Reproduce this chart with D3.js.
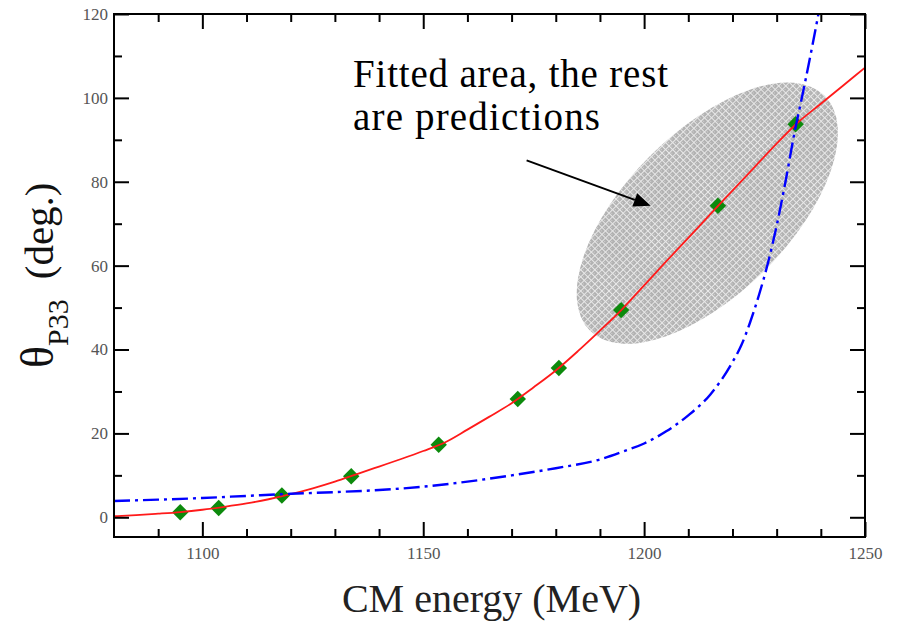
<!DOCTYPE html>
<html>
<head>
<meta charset="utf-8">
<script src="https://cdn.jsdelivr.net/npm/d3@7"></script>
<style>
  html, body { margin: 0; padding: 0; background: #fff; }
  svg { display: block; }
</style>
</head>
<body>
<svg id="chart" width="897" height="626"></svg>
<script>
// ---- data ----
const pointEnergy = [1095.0, 1103.7, 1118.0, 1133.7, 1153.5, 1171.4, 1180.7, 1194.8, 1216.7, 1234.3];
const pointPhase  = [1.2, 2.2, 5.2, 9.8, 17.3, 28.2, 35.6, 49.4, 74.3, 93.7];

const fitEnergy = [1080,1085,1090,1095,1100,1105,1110,1115,1120,1125,1130,1135,1140,1145,1150,1155,1160,1165,1170,1175,1180,1185,1190,1195,1200,1205,1210,1215,1220,1225,1230,1235,1240,1245,1250];
const fitPhase  = [0.25,0.5,0.85,1.25,1.8,2.5,3.3,4.3,5.5,6.9,8.5,10.3,12.1,13.9,15.8,17.9,20.9,24.0,27.2,31.0,35.0,39.6,44.5,49.6,55.3,61.0,66.6,72.3,77.9,83.5,89.1,94.3,98.6,102.9,107.2];

const predEnergy = [1080,1090,1100,1110,1120,1130,1140,1150,1160,1170,1180,1190,1195,1200,1205,1210,1215,1220,1222,1224,1226,1228,1230,1232,1234,1236,1238,1240];
const predPhase  = [3.9,4.2,4.6,5.1,5.6,6.0,6.5,7.3,8.5,10.0,11.7,13.8,15.6,17.6,20.5,24.3,29.3,37.0,41.0,46.5,53.0,60.5,69.5,80.0,91.5,101.5,112.0,123.0];

const xMajorTicks = [1100, 1150, 1200, 1250];
const xMinorTicks = [1090,1110,1120,1130,1140,1160,1170,1180,1190,1210,1220,1230,1240];
const yMajorTicks = [0, 20, 40, 60, 80, 100, 120];
const yMinorTicks = [10, 30, 50, 70, 90, 110];

const xLabel = "CM energy (MeV)";
const annotationLines = ["Fitted area, the rest", "are predictions"];

// ---- layout ----
const L = 114, R = 865, T = 14, B = 537;
const svg = d3.select("#chart");
const x = d3.scaleLinear().domain([1080, 1250]).range([L, R]);
const y = d3.scaleLinear().domain([-4.7, 120]).range([B, T]);

const defs = svg.append("defs");
defs.append("clipPath").attr("id", "plotClip")
  .append("rect").attr("x", L).attr("y", T).attr("width", R - L).attr("height", B - T);

const pat = defs.append("pattern").attr("id", "stipple")
  .attr("patternUnits", "userSpaceOnUse").attr("width", 5).attr("height", 5);
pat.append("rect").attr("width", 5).attr("height", 5).attr("fill", "#b2b2b2");
pat.append("rect").attr("x", 0).attr("y", 0).attr("width", 5).attr("height", 1).attr("fill", "#e8e8e8");
pat.append("rect").attr("x", 0).attr("y", 0).attr("width", 1).attr("height", 5).attr("fill", "#e8e8e8");
pat.append("rect").attr("x", 2).attr("y", 2).attr("width", 1).attr("height", 1).attr("fill", "#d4d4d4");

const plot = svg.append("g").attr("clip-path", "url(#plotClip)");

// ellipse (fitted area)
const ellCx = x(1214.3), ellCy = y(72.5);
plot.append("ellipse")
  .attr("cx", 0).attr("cy", 0).attr("rx", 166).attr("ry", 81)
  .attr("transform", `translate(${ellCx},${ellCy}) rotate(-45)`)
  .attr("fill", "url(#stipple)");

// data points
const pts = pointEnergy.map((e, i) => ({e, p: pointPhase[i]}));
plot.selectAll("path.pt").data(pts).enter().append("path")
  .attr("class", "pt")
  .attr("d", d3.symbol().type(d3.symbolSquare).size(135))
  .attr("transform", d => `translate(${x(d.e)},${y(d.p)}) rotate(45)`)
  .attr("fill", "#0c8a0c");

// fit curve (red)
const line = d3.line().x(d => x(d[0])).y(d => y(d[1])).curve(d3.curveMonotoneX);
plot.append("path")
  .datum(fitEnergy.map((e, i) => [e, fitPhase[i]]))
  .attr("d", line)
  .attr("fill", "none").attr("stroke", "#ff1a1a").attr("stroke-width", 1.8);

// prediction curve (blue dash-dot)
plot.append("path")
  .datum(predEnergy.map((e, i) => [e, predPhase[i]]))
  .attr("d", line)
  .attr("fill", "none").attr("stroke", "#0000ff").attr("stroke-width", 2.4)
  .attr("stroke-dasharray", "16,5,3,5");

// ---- axes ----
const tickFont = "'Liberation Serif', 'Times New Roman', serif";
function styleAxis(g) {
  g.select(".domain").remove();
  g.selectAll(".tick line").attr("stroke", "#000").attr("stroke-width", 2);
  g.selectAll(".tick text").attr("fill", "#555").style("font-family", tickFont).style("font-size", "17px");
}
svg.append("g").attr("transform", `translate(0,${B})`)
  .call(d3.axisBottom(x).tickValues(xMajorTicks).tickSizeInner(-15).tickSizeOuter(0).tickPadding(10).tickFormat(d3.format("d")))
  .call(styleAxis);
svg.append("g").attr("transform", `translate(0,${B})`)
  .call(d3.axisBottom(x).tickValues(xMinorTicks).tickSizeInner(-8).tickSizeOuter(0).tickFormat(""))
  .call(styleAxis);
svg.append("g").attr("transform", `translate(0,${T})`)
  .call(d3.axisTop(x).tickValues(xMajorTicks).tickSizeInner(-15).tickSizeOuter(0).tickFormat(""))
  .call(styleAxis);
svg.append("g").attr("transform", `translate(0,${T})`)
  .call(d3.axisTop(x).tickValues(xMinorTicks).tickSizeInner(-8).tickSizeOuter(0).tickFormat(""))
  .call(styleAxis);
svg.append("g").attr("transform", `translate(${L},0)`)
  .call(d3.axisLeft(y).tickValues(yMajorTicks).tickSizeInner(-15).tickSizeOuter(0).tickPadding(6).tickFormat(d3.format("d")))
  .call(styleAxis);
svg.append("g").attr("transform", `translate(${L},0)`)
  .call(d3.axisLeft(y).tickValues(yMinorTicks).tickSizeInner(-8).tickSizeOuter(0).tickFormat(""))
  .call(styleAxis);
svg.append("g").attr("transform", `translate(${R},0)`)
  .call(d3.axisRight(y).tickValues(yMajorTicks).tickSizeInner(-15).tickSizeOuter(0).tickFormat(""))
  .call(styleAxis);
svg.append("g").attr("transform", `translate(${R},0)`)
  .call(d3.axisRight(y).tickValues(yMinorTicks).tickSizeInner(-8).tickSizeOuter(0).tickFormat(""))
  .call(styleAxis);

// frame
svg.append("rect").attr("x", L).attr("y", T).attr("width", R - L).attr("height", B - T)
  .attr("fill", "none").attr("stroke", "#000").attr("stroke-width", 2);

// ---- titles ----
const serif = "'Liberation Serif', 'Times New Roman', serif";
svg.append("text")
  .attr("x", (L + R) / 2 + 2).attr("y", 612)
  .attr("text-anchor", "middle")
  .style("font-family", serif).style("font-size", "40px").attr("fill", "#222")
  .text(xLabel);

const yl = svg.append("text")
  .attr("transform", "translate(53,368) rotate(-90)")
  .style("font-family", serif).attr("fill", "#111");
yl.append("tspan").style("font-size", "46px").text("θ");
yl.append("tspan").attr("dy", 15).style("font-size", "30px").text("P33");
yl.append("tspan").attr("dy", -15).attr("dx", 20).style("font-size", "41px").text("(deg.)");

// annotation
const ann = svg.append("g").style("font-family", serif).style("font-size", "39px").attr("fill", "#000");
ann.append("text").attr("x", 353).attr("y", 87).attr("textLength", 315).attr("lengthAdjust", "spacing").text(annotationLines[0]);
ann.append("text").attr("x", 353).attr("y", 130).attr("textLength", 247).attr("lengthAdjust", "spacing").text(annotationLines[1]);

// arrow
const ax0 = x(1173.4), ay0 = y(85.1), ax1 = x(1201.5), ay1 = y(74.3);
const ang = Math.atan2(ay1 - ay0, ax1 - ax0);
const headLen = 17, headW = 7;
const bx = ax1 - headLen * Math.cos(ang), by = ay1 - headLen * Math.sin(ang);
svg.append("line").attr("x1", ax0).attr("y1", ay0).attr("x2", bx).attr("y2", by)
  .attr("stroke", "#000").attr("stroke-width", 2);
svg.append("path")
  .attr("d", `M${ax1},${ay1} L${bx - headW * Math.sin(ang)},${by + headW * Math.cos(ang)} L${bx + headW * Math.sin(ang)},${by - headW * Math.cos(ang)} Z`)
  .attr("fill", "#000");
</script>
</body>
</html>
